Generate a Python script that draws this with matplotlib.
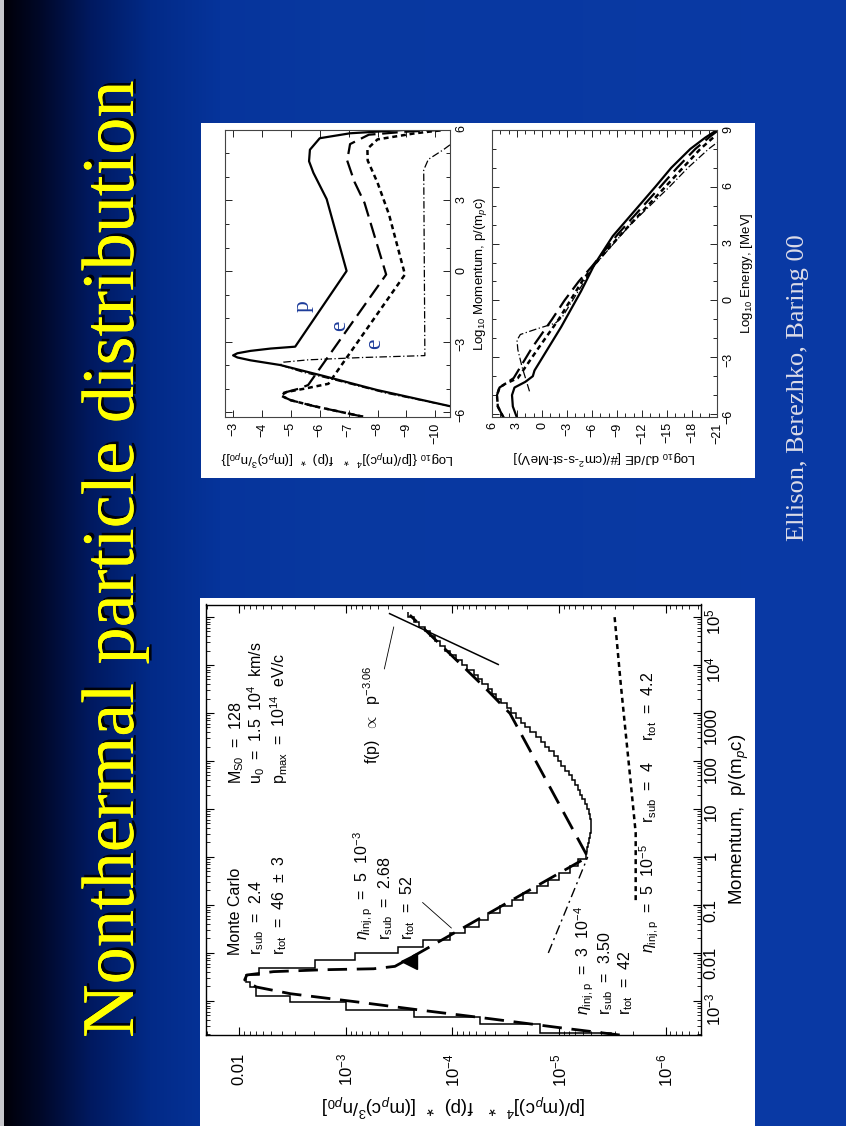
import numpy as np
import matplotlib
matplotlib.use('Agg')
import matplotlib.pyplot as plt
import matplotlib.patheffects as pe
from matplotlib.patches import Rectangle
from matplotlib.ticker import (FixedLocator, FixedFormatter, LogLocator,
                               MultipleLocator, NullFormatter)

plt.rcParams['font.family'] = ['Liberation Sans', 'DejaVu Sans']
plt.rcParams['mathtext.fontset'] = 'custom'
plt.rcParams['mathtext.rm'] = 'Liberation Sans'
plt.rcParams['mathtext.it'] = 'Liberation Sans:italic'
plt.rcParams['mathtext.bf'] = 'Liberation Sans:bold'

W, H = 846, 1126

# ---- big chart: Monte Carlo histogram (log10 p bin edges, log10 of p^4 f) ----
hist_edges = [-3.72, -3.66, -3.49, -3.34, -3.19, -3.03, -2.89, -2.72, -2.60, -2.47,
              -2.32, -2.15, -2.01, -1.87, -1.73, -1.59, -1.45, -1.31, -1.17, -1.03,
              -0.89, -0.75, -0.61, -0.47, -0.33, -0.19, -0.05, 0.10,
              0.2, 0.3, 0.4, 0.5, 0.6, 0.7, 0.8, 0.9, 1.0, 1.1,
              1.2, 1.3, 1.4, 1.5, 1.6, 1.7, 1.8, 1.9, 2.0, 2.1,
              2.2, 2.3, 2.4, 2.5, 2.6, 2.7, 2.8, 2.9, 3.0, 3.1,
              3.2, 3.3, 3.4, 3.5, 3.6, 3.7, 3.8, 3.9, 4.0, 4.1,
              4.2, 4.3, 4.4, 4.5, 4.6, 4.7, 4.8, 4.9, 5.0, 5.1]
hist_logf = [-5.49, -4.82, -4.26, -3.64, -3.00, -2.48, -2.16, -2.10, -2.06, -2.18,
             -2.71, -3.09, -3.49, -3.72, -3.98, -4.12, -4.25, -4.33, -4.45, -4.56,
             -4.66, -4.79, -4.90, -5.00, -5.10, -5.18, -5.25,
             -5.26, -5.27, -5.28, -5.29, -5.30, -5.30, -5.30, -5.29, -5.28, -5.26,
             -5.24, -5.22, -5.20, -5.18, -5.15, -5.12, -5.09, -5.06, -5.02, -4.99,
             -4.95, -4.91, -4.87, -4.83, -4.78, -4.73, -4.68, -4.64, -4.60, -4.55,
             -4.51, -4.46, -4.41, -4.37, -4.33, -4.28, -4.24, -4.20, -4.14, -4.09,
             -4.03, -3.98, -3.93, -3.88, -3.84, -3.79, -3.74, -3.69, -3.64, -3.58]

# analytic model, eta = 5e-3 (long dashes)
ana_logp = [-3.71, -3.55, -3.37, -3.20, -3.02, -2.85, -2.71, -2.60, -2.56, -2.46,
            -2.39, -2.35, -2.33, -2.28, -2.11, 0.0, 2.99, 3.56, 5.04]
ana_logf = [-5.57, -4.98, -4.35, -3.73, -3.10, -2.48, -2.16, -2.07, -2.05, -2.07,
            -2.32, -2.79, -3.26, -3.46, -3.60, -5.27, -4.54, -4.29, -3.60]
# eta = 3e-4 (dash-dot)
eta3_logp = [-2.0, 0.0]
eta3_logf = [-4.90, -5.27]
# eta = 5e-5 (dots)
eta5_logp = [-0.9, 0.5, 1.4, 2.5, 3.6, 5.05]
eta5_logf = [-5.72, -5.72, -5.68, -5.63, -5.58, -5.52]
# power law f(p) ~ p^-3.06
pow_logp = [4.01, 5.07]
pow_logf = [-4.43, -3.41]
# injection marker
inj_logp = [-2.16]
inj_logf = [-3.59]

f_ticks = [1e-2, 1e-3, 1e-4, 1e-5, 1e-6]
f_labels = ['0.01', '$10^{-3}$', '$10^{-4}$', '$10^{-5}$', '$10^{-6}$']
p_ticks = [1e-3, 1e-2, 1e-1, 1, 10, 100, 1000, 1e4, 1e5]
p_labels = ['$10^{-3}$', '0.01', '0.1', '1', '10', '100', '1000', '$10^4$', '$10^5$']

# ---- upper small panel: log10 p vs log10 p^4 f ----
prot_logp = [-5.75, -5.06, -4.46, -4.0, -3.8, -3.68, -3.59, -3.5, -3.4, -3.3,
             -3.22, 0.0, 3.06, 4.18, 4.67, 5.16, 5.65, 5.86, 6.0]
prot_logf = [-10.5, -7.97, -6.11, -4.63, -3.6, -3.15, -3.0, -3.15, -3.6, -4.3,
             -5.15, -6.93, -6.24, -5.78, -5.63, -5.66, -6.0, -7.05, -8.9]
ea_logp = [-6.2, -5.75, -5.5, -5.3, -5.2, -5.1, -5.0, -4.85, -0.15, 2.9,
           3.8, 4.7, 5.4, 5.8, 5.93, 6.0]
ea_logf = [-7.5, -5.8, -5.0, -4.65, -4.7, -5.0, -5.3, -5.6, -8.3, -7.55,
           -7.2, -6.95, -7.05, -7.7, -9.0, -10.2]
eb_logp = [-6.2, -5.75, -5.5, -5.3, -5.15, -5.0, -4.9, -4.8, -0.15, 2.4,
           3.76, 4.7, 5.2, 5.6, 5.86, 6.0]
eb_logf = [-7.5, -5.8, -5.0, -4.65, -4.85, -5.5, -5.9, -6.3, -8.95, -8.4,
           -8.0, -7.66, -7.65, -8.0, -9.3, -10.3]
ec_logp = [-5.75, -5.2, -4.6, -4.3, -4.0, -3.88, -3.78, -3.68, -3.6, 4.3,
           4.75, 5.16, 5.45]
ec_logf = [-10.5, -8.3, -6.4, -5.4, -4.63, -4.75, -5.6, -7.5, -9.64, -9.6,
           -9.76, -10.28, -10.6]

# ---- lower small panel: log10 E vs log10 dJ/dE ----
prot_logE = [-6.2, -5.6, -5.0, -4.6, -4.3, -4.0, -3.7, -1.4, 0.5, 1.9,
             3.4, 6.0, 7.0, 8.0, 8.6, 9.0]
prot_logJ = [3.0, 3.5, 3.6, 3.3, 2.0, 1.1, 0.9, -2.3, -4.7, -6.3,
             -8.5, -13.6, -15.5, -17.8, -19.6, -21.0]
ea_logE = [-6.2, -5.6, -5.0, -4.6, -4.4, -4.1, -2.5, -1.0, 0.0, 1.0,
           1.8, 3.5, 6.0, 7.0, 8.0, 8.7, 9.0]
ea_logJ = [4.6, 5.3, 5.4, 5.1, 4.4, 3.4, 1.2, -1.2, -2.7, -4.4,
           -6.0, -9.1, -14.2, -16.2, -18.4, -20.3, -21.2]
eb_logE = [-6.2, -5.6, -5.0, -4.6, -4.4, -4.1, -2.5, -1.0, 0.0, 1.0,
           1.8, 3.5, 6.0, 7.0, 8.0, 8.7]
eb_logJ = [4.6, 5.3, 5.4, 5.1, 4.4, 2.9, 0.4, -2.0, -3.4, -4.8,
           -6.1, -9.5, -14.8, -16.9, -19.0, -20.8]
ec_logE = [-4.8, -3.5, -2.6, -2.1, -1.8, -1.5, -1.2, -0.9, 1.8, 4.0,
           6.0, 7.0, 8.0, 8.4]
ec_logJ = [1.5, 2.4, 2.9, 3.0, 2.6, 0.6, -1.6, -2.4, -6.2, -10.6,
           -15.3, -17.5, -20.0, -21.2]


def px_rect(x0, y0, x1, y1):
    return [x0 / W, 1 - y1 / H, (x1 - x0) / W, (y1 - y0) / H]


fig = plt.figure(figsize=(W / 100, H / 100), dpi=100)

# background slide
bg = fig.add_axes([0, 0, 1, 1])
bg.set_xlim(0, W)
bg.set_ylim(H, 0)
bg.axis('off')
gx = [0, 3.5, 4, 40, 90, 150, 220, 320, 846]
gr = [200, 200, 0, 0, 0, 2, 6, 8, 10]
gg = [200, 200, 0, 8, 25, 42, 52, 56, 58]
gb = [205, 205, 8, 40, 95, 135, 155, 160, 165]
xs = np.arange(W) + 0.5
row = np.stack([np.interp(xs, gx, gr), np.interp(xs, gx, gg), np.interp(xs, gx, gb)], axis=1) / 255
bg.imshow(np.repeat(row[None, :, :], 2, axis=0), extent=[0, W, H, 0], aspect='auto')
bg.add_patch(Rectangle((201, 123), 554, 355, facecolor='white', edgecolor='none'))
bg.add_patch(Rectangle((200, 598), 555, 528, facecolor='white', edgecolor='none'))
bg.text(133, 1038, 'Nonthermal particle distribution', rotation=90, rotation_mode='anchor',
        ha='left', va='baseline', fontsize=53.5, family='Liberation Serif', color='#ffff00',
        path_effects=[pe.withSimplePatchShadow(offset=(2, 2), shadow_rgbFace='black', alpha=0.9),
                      pe.Normal()])
bg.text(804, 541, 'Ellison, Berezhko, Baring 00', rotation=90, rotation_mode='anchor',
        ha='left', va='baseline', fontsize=19, family='Liberation Serif', color='#dcdce8')

# ---- big chart ----
ax = fig.add_axes(px_rect(206, 604.5, 701, 1035))
ax.set_xscale('log')
ax.set_yscale('log')
ax.stairs(10 ** np.array(hist_logf), 10 ** np.array(hist_edges), orientation='horizontal',
          baseline=None, color='black', lw=1.1)
ax.plot(10 ** np.array(ana_logf), 10 ** np.array(ana_logp), color='black', lw=2,
        dashes=(7, 3.5))
ax.plot(10 ** np.array(eta3_logf), 10 ** np.array(eta3_logp), color='black', lw=1,
        dashes=(7, 3, 1.5, 3))
ax.plot(10 ** np.array(eta5_logf), 10 ** np.array(eta5_logp), color='black', lw=1.8,
        dashes=(2, 1.6))
ax.plot(10 ** np.array(pow_logf), 10 ** np.array(pow_logp), color='black', lw=1.1)
ax.plot(10 ** np.array(inj_logf), 10 ** np.array(inj_logp), marker='<', color='black',
        markersize=11, ls='none')
ax.set_xlim(10 ** -1.687, 10 ** -6.333)
ax.set_ylim(10 ** -3.71, 10 ** 5.26)
ax.xaxis.set_major_locator(FixedLocator(f_ticks))
ax.xaxis.set_major_formatter(FixedFormatter(f_labels))
ax.yaxis.set_major_locator(FixedLocator(p_ticks))
ax.yaxis.set_major_formatter(FixedFormatter(p_labels))
for a in (ax.xaxis, ax.yaxis):
    a.set_minor_locator(LogLocator(base=10, subs=np.arange(2, 10) * 1.0, numticks=100))
    a.set_minor_formatter(NullFormatter())
ax.tick_params(which='both', direction='in', top=True, bottom=True, left=True, right=True,
               labelleft=False, labelright=True, labelrotation=90, labelsize=12)
ax.tick_params(which='major', length=6, width=0.8)
ax.tick_params(which='minor', length=3, width=0.6)
ax.tick_params(axis='x', pad=13)
ax.tick_params(axis='y', pad=2)
ax.set_xlabel(r'[p/(m$_p$c)]$^4$  *   f(p)  *  [(m$_p$c)$^3$/n$_{p0}$]', rotation=180,
              fontsize=13.5, labelpad=4)
ax.yaxis.set_label_position('right')
ax.set_ylabel('Momentum,  p/(m$_p$c)', rotation=90, fontsize=13.5, labelpad=3)

tk = dict(rotation=90, rotation_mode='anchor', ha='left', va='baseline', fontsize=11.5)


def lab(v, w, s):
    ax.text(10 ** v, 10 ** w, s, **tk)


lab(-2.007, -2.05, 'Monte Carlo')
lab(-2.21, -2.05, r'r$_{\rm sub}$  =  2.4')
lab(-2.42, -2.05, r'r$_{\rm tot}$  =  46  $\pm$  3')
lab(-2.016, 1.515, r'M$_{\rm S0}$  =  128')
lab(-2.22, 1.515, r'u$_0$  =  1.5  10$^4$  km/s')
lab(-2.43, 1.515, r'p$_{\rm max}$  =  10$^{14}$  eV/c')
lab(-3.21, -1.73, r'$\eta_{\rm inj,p}$  =  5  10$^{-3}$')
lab(-3.42, -1.73, r'r$_{\rm sub}$  =  2.68')
lab(-3.62, -1.73, r'r$_{\rm tot}$  =  52')
lab(-3.30, 1.94, r'f(p)  $\propto$  p$^{-3.06}$')
lab(-5.28, -3.30, r'$\eta_{\rm inj,p}$  =  3  10$^{-4}$')
lab(-5.48, -3.30, r'r$_{\rm sub}$  =  3.50')
lab(-5.67, -3.30, r'r$_{\rm tot}$  =  42')
lab(-5.89, -2.01, r'$\eta_{\rm inj,p}$  =  5  10$^{-5}$     r$_{\rm sub}$  =  4     r$_{\rm tot}$  =  4.2')
ax.annotate('', xy=(10 ** -4.01, 10 ** -1.52), xytext=(10 ** -3.70, 10 ** -0.91),
            arrowprops=dict(arrowstyle='-', lw=0.6, color='black'))
ax.annotate('', xy=(10 ** -3.455, 10 ** 4.85), xytext=(10 ** -3.355, 10 ** 3.86),
            arrowprops=dict(arrowstyle='-', lw=0.6, color='black'))
for s in ax.spines.values():
    s.set_linewidth(1.0)


# ---- small panels ----
def small(axx):
    axx.tick_params(which='both', direction='in', top=True, bottom=True, left=True,
                    right=True, labelleft=False, labelright=True, labelrotation=90,
                    labelsize=9, pad=4)
    axx.tick_params(which='major', length=5, width=0.6)
    axx.tick_params(which='minor', length=3, width=0.6)
    axx.yaxis.set_label_position('right')
    for s in axx.spines.values():
        s.set_linewidth(0.8)
        s.set_color('#444444')


ax1 = fig.add_axes(px_rect(225, 130, 450, 416.7))
ax1.plot(prot_logf, prot_logp, color='black', lw=1.6)
ax1.plot(ea_logf, ea_logp, color='black', lw=1.6, dashes=(7, 3))
ax1.plot(eb_logf, eb_logp, color='black', lw=1.8, dashes=(2, 1.5))
ax1.plot(ec_logf, ec_logp, color='black', lw=0.9, dashes=(6, 2, 1, 2))
ax1.set_xlim(-2.72, -10.51)
ax1.set_ylim(-6.2, 6.0)
ax1.xaxis.set_major_locator(MultipleLocator(1))
ax1.yaxis.set_major_locator(MultipleLocator(3))
ax1.yaxis.set_minor_locator(MultipleLocator(1))
small(ax1)
ax1.set_xlabel(r'Log$_{10}$ {[p/(m$_p$c)]$^4$  *   f(p)  *  [(m$_p$c)$^3$/n$_{p0}$]}',
               rotation=180, fontsize=9.5, labelpad=3)
ax1.set_ylabel(r'Log$_{10}$ Momentum, p/(m$_p$c)', rotation=90, fontsize=9.5, labelpad=3)
for v, w, s in [(-5.43, -1.49, 'p'), (-6.70, -2.33, 'e'), (-7.91, -3.11, 'e')]:
    ax1.text(v, w, s, rotation=90, ha='center', va='center', fontsize=17,
             family='Liberation Serif', color='#1d3c9a')

ax2 = fig.add_axes(px_rect(492, 130, 717, 416.7))
ax2.plot(prot_logJ, prot_logE, color='black', lw=1.6)
ax2.plot(ea_logJ, ea_logE, color='black', lw=1.6, dashes=(7, 3))
ax2.plot(eb_logJ, eb_logE, color='black', lw=1.8, dashes=(2, 1.5))
ax2.plot(ec_logJ, ec_logE, color='black', lw=0.9, dashes=(6, 2, 1, 2))
ax2.set_xlim(6.0, -21.0)
ax2.set_ylim(-6.14, 9.0)
ax2.xaxis.set_major_locator(MultipleLocator(3))
ax2.xaxis.set_minor_locator(MultipleLocator(1))
ax2.yaxis.set_major_locator(MultipleLocator(3))
ax2.yaxis.set_minor_locator(MultipleLocator(1))
small(ax2)
ax2.set_xlabel(r'Log$_{10}$ dJ/dE [#/(cm$^2$-s-st-MeV)]', rotation=180, fontsize=9.5, labelpad=3)
ax2.set_ylabel(r'Log$_{10}$ Energy, [MeV]', rotation=90, fontsize=9.5, labelpad=3)

fig.savefig('out.png', dpi=100)
